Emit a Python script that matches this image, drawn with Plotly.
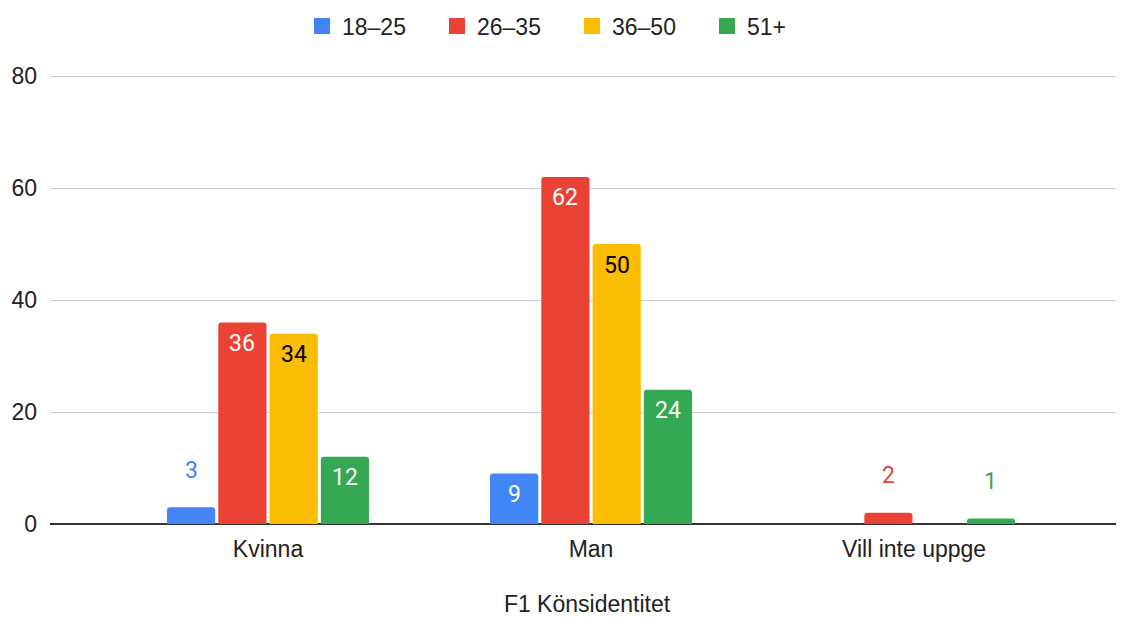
import plotly.graph_objects as go

categories = ["Kvinna", "Man", "Vill inte uppge"]
age_groups = ["18–25", "26–35", "36–50", "51+"]
counts_18_25 = [3, 9, 0]
counts_26_35 = [36, 62, 2]
counts_36_50 = [34, 50, 0]
counts_51 = [12, 24, 1]
y_ticks = [0, 20, 40, 60, 80]

series = [counts_18_25, counts_26_35, counts_36_50, counts_51]
colors = ["#4285F4", "#EA4335", "#FBBC04", "#34A853"]
inside_text = ["#FFFFFF", "#FFFFFF", "#000000", "#FFFFFF"]

bargap = 0.365
n = len(series)

fig = go.Figure()
annotations = []
for i, (name, vals, col) in enumerate(zip(age_groups, series, colors)):
    fig.add_trace(go.Bar(
        x=categories, y=vals, name=name,
        marker=dict(color=col, cornerradius=3, line=dict(width=0)),
        hoverinfo="skip", showlegend=False,
    ))
    # legend entry with a bigger square than the bar legend symbol
    fig.add_trace(go.Scatter(
        x=[None], y=[None], mode="markers", name=name,
        marker=dict(symbol="square", size=30, color=col),
    ))
    # value labels, inside the bar when it is tall enough, otherwise above it
    offset = (i - (n - 1) / 2) * (1 - bargap) / n
    for j, v in enumerate(vals):
        if v == 0:
            continue
        inside = v >= 6
        annotations.append(dict(
            x=j + offset, y=v, xref="x", yref="y",
            text=str(v), showarrow=False,
            yshift=-21 if inside else 37,
            font=dict(size=23, color=inside_text[i] if inside else col,
                      family="Roboto"),
        ))

# the page body has an 8px margin, so the figure is sized/placed to fit
fig.update_layout(
    barmode="group",
    bargap=bargap,
    bargroupgap=0.06,
    width=1116, height=609,
    margin=dict(l=42, r=0, t=67, b=93),
    plot_bgcolor="white", paper_bgcolor="white",
    font=dict(family="Arial, Liberation Sans", size=23, color="#222222"),
    legend=dict(
        orientation="h", x=0.5 + 6 / 1116, xanchor="center",
        y=(609 - 18) / 609, yanchor="middle", yref="container",
        xref="container",
        font=dict(size=23, color="#222222"),
        entrywidth=90, entrywidthmode="pixels",
        itemsizing="trace",
    ),
    annotations=annotations,
    xaxis=dict(
        type="category",
        range=[-0.675, 2.65],
        showgrid=False,
        ticks="",
        ticklabelstandoff=9,
        tickfont=dict(size=23, color="#222222"),
        title=dict(text="F1 Könsidentitet", standoff=39,
                   font=dict(size=23, color="#222222")),
        automargin=False,
    ),
    yaxis=dict(
        range=[0, 80.2],
        tickvals=y_ticks,
        showgrid=True, gridcolor="#CCCCCC", gridwidth=1,
        zeroline=True, zerolinecolor="#333333", zerolinewidth=2,
        ticks="",
        ticklabelstandoff=12,
        tickfont=dict(size=23, color="#222222"),
        automargin=False,
    ),
)

fig.write_html("out.html")
